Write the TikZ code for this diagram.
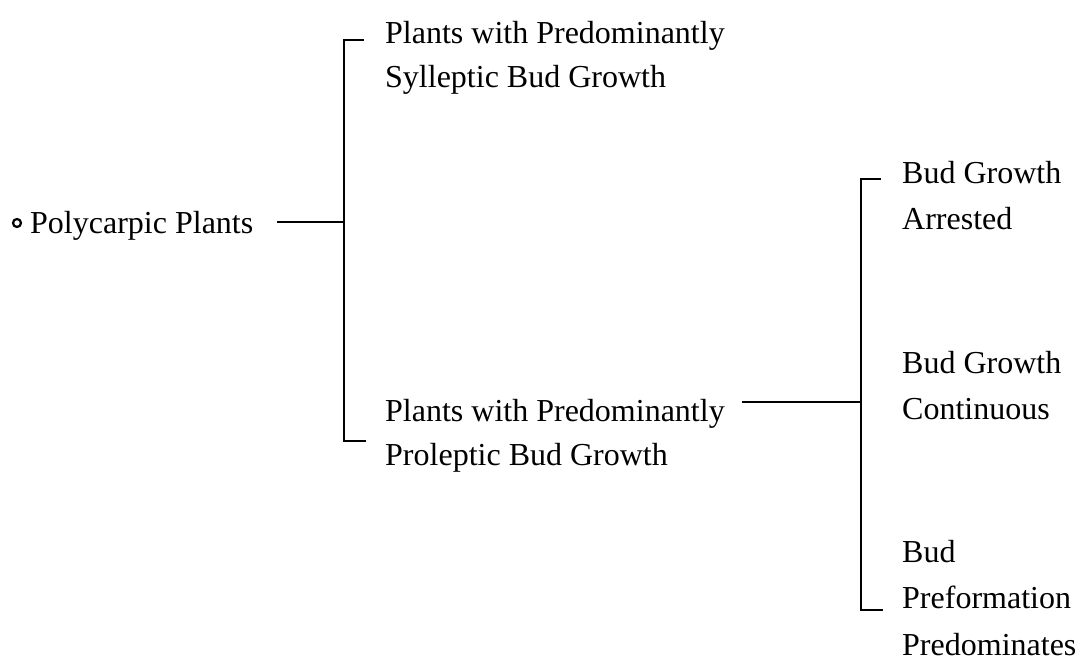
\documentclass[tikz,border=0pt]{standalone}
\usepackage{fontspec}
\setmainfont{Liberation Serif}
\begin{document}
\begin{tikzpicture}[x=1pt,y=-1pt,
  lbl/.style={anchor=base west,inner sep=0pt,align=left,font=\fontsize{32}{44.5}\selectfont},
  lbltwo/.style={lbl,font=\fontsize{32}{46.5}\selectfont},
  brk/.style={line width=2.6pt,line cap=butt,line join=miter},
  bulletmark/.style={circle,draw,line width=2.2pt,minimum size=8pt,inner sep=0pt}]
\useasboundingbox (0,0) rectangle (1080,660);
% nodes (base anchor = baseline of the last line)
\node[bulletmark] (dot) at (17,223) {};
\node[lbl] (poly) at (30,234) {Polycarpic Plants};
\node[lbl] (syl) at (385,88) {Plants with Predominantly\\Sylleptic Bud Growth};
\node[lbl] (pro) at (385,466) {Plants with Predominantly\\Proleptic Bud Growth};
\node[lbltwo] (arr) at (902,230) {Bud Growth\\Arrested};
\node[lbltwo] (con) at (902,420) {Bud Growth\\Continuous};
\node[lbltwo] (pre) at (902,655) {Bud\\Preformation\\Predominates};
% bracket coordinates
\coordinate (polyend) at (277,222);
\coordinate (b1m) at (344,222);
\coordinate (b1t) at (344,40);
\coordinate (b1te) at (364,40);
\coordinate (b1b) at (344,441);
\coordinate (b1be) at (366,441);
\coordinate (proend) at (742,402);
\coordinate (b2m) at (861,402);
\coordinate (b2t) at (861,179);
\coordinate (b2te) at (881,179);
\coordinate (b2b) at (861,610);
\coordinate (b2be) at (883,610);
% connectors
\draw[brk] (polyend) -- (b1m);
\draw[brk] (b1te) -- (b1t) -- (b1b) -- (b1be);
\draw[brk] (proend) -- (b2m);
\draw[brk] (b2te) -- (b2t) -- (b2b) -- (b2be);
\end{tikzpicture}
\end{document}
